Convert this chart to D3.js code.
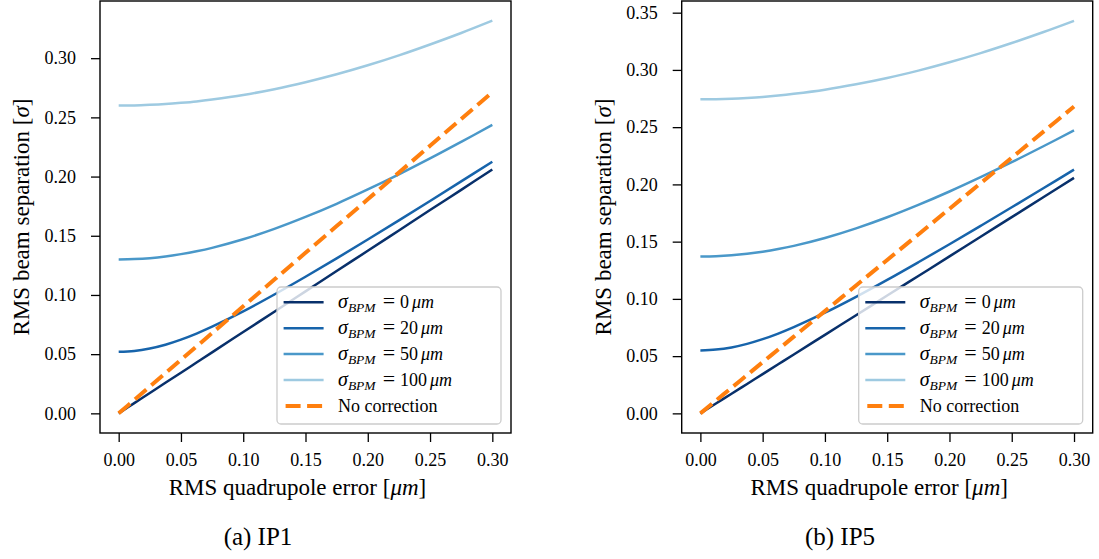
<!DOCTYPE html>
<html><head><meta charset="utf-8">
<script src="https://cdn.jsdelivr.net/npm/d3@7"></script>
<style>
html,body{margin:0;padding:0;background:#fff;}
svg{display:block;}
text{font-family:"Liberation Serif","Times New Roman",serif;fill:#000;}
</style></head><body>
<svg id="chart" width="1099" height="559"></svg>
<script>
// ---------- data ----------
const xValues = [0, 0.0125, 0.025, 0.0375, 0.05, 0.0625, 0.075, 0.1, 0.125, 0.15, 0.175, 0.2, 0.225, 0.25, 0.275, 0.3];

const ip1Bpm0   = [0, 0.0086, 0.0172, 0.0258, 0.0343, 0.0429, 0.0515, 0.0687, 0.0858, 0.1030, 0.1202, 0.1373, 0.1545, 0.1717, 0.1888, 0.2060];
const ip1Bpm20  = [0.0520, 0.0527, 0.0548, 0.0580, 0.0623, 0.0674, 0.0732, 0.0861, 0.1004, 0.1154, 0.1309, 0.1468, 0.1630, 0.1794, 0.1959, 0.2125];
const ip1Bpm50  = [0.1300, 0.1303, 0.1311, 0.1325, 0.1345, 0.1369, 0.1398, 0.1470, 0.1558, 0.1659, 0.1770, 0.1891, 0.2019, 0.2153, 0.2293, 0.2436];
const ip1Bpm100 = [0.2600, 0.2601, 0.2606, 0.2613, 0.2623, 0.2635, 0.2651, 0.2689, 0.2738, 0.2797, 0.2864, 0.2940, 0.3024, 0.3116, 0.3213, 0.3317];
const ip1None   = [0, 0.0113, 0.0226, 0.0339, 0.0452, 0.0565, 0.0678, 0.0904, 0.1130, 0.1356, 0.1582, 0.1808, 0.2034, 0.2260, 0.2486, 0.2712];

const ip5Bpm0   = [0, 0.0086, 0.0171, 0.0257, 0.0343, 0.0429, 0.0514, 0.0686, 0.0857, 0.1029, 0.1200, 0.1371, 0.1543, 0.1714, 0.1886, 0.2057];
const ip5Bpm20  = [0.0550, 0.0557, 0.0576, 0.0607, 0.0648, 0.0697, 0.0753, 0.0879, 0.1018, 0.1166, 0.1320, 0.1477, 0.1638, 0.1800, 0.1964, 0.2129];
const ip5Bpm50  = [0.1370, 0.1373, 0.1381, 0.1394, 0.1412, 0.1435, 0.1463, 0.1532, 0.1616, 0.1713, 0.1821, 0.1938, 0.2063, 0.2194, 0.2331, 0.2471];
const ip5Bpm100 = [0.2743, 0.2744, 0.2748, 0.2755, 0.2764, 0.2776, 0.2791, 0.2827, 0.2874, 0.2929, 0.2994, 0.3067, 0.3147, 0.3235, 0.3329, 0.3429];
const ip5None   = [0, 0.0112, 0.0223, 0.0335, 0.0447, 0.0558, 0.0670, 0.0893, 0.1117, 0.1340, 0.1563, 0.1787, 0.2010, 0.2233, 0.2457, 0.2680];

const bpmLabels = ["0", "20", "50", "100"];
const noCorrectionLabel = "No correction";
const xTicks = [0, 0.05, 0.1, 0.15, 0.2, 0.25, 0.3];
const yTicksIP1 = [0, 0.05, 0.1, 0.15, 0.2, 0.25, 0.3];
const yTicksIP5 = [0, 0.05, 0.1, 0.15, 0.2, 0.25, 0.3, 0.35];
const xLabel = "RMS quadrupole error [";
const yLabel = "RMS beam separation [";
const captions = ["(a) IP1", "(b) IP5"];

// ---------- styles ----------
const blues = ["#08306b", "#1764ab", "#4a98c9", "#9ecae1"];
const orange = "#ff7f0e";
const TICK_FONT = 18;
const LABEL_FONT = 23;
const CAPTION_FONT = 25;

const svg = d3.select("#chart");

function drawPanel(p) {
  const left = p.left, right = p.left + 411, top = 1, bottom = 433;
  const x = d3.scaleLinear().domain([-0.015, 0.315]).range([left, right]);
  const y = d3.scaleLinear().domain(p.yDomain).range([bottom, top]);
  const g = svg.append("g");

  const clipId = "clip" + p.id;
  svg.append("clipPath").attr("id", clipId).append("rect")
    .attr("x", left).attr("y", top).attr("width", right - left).attr("height", bottom - top);

  const lineGen = d3.line()
    .x((d, i) => x(xValues[i]))
    .y(d => y(d))
    .curve(d3.curveCatmullRom.alpha(0.5));

  const plot = g.append("g").attr("clip-path", `url(#${clipId})`);
  p.series.forEach((vals, i) => {
    plot.append("path").attr("d", lineGen(vals))
      .attr("fill", "none").attr("stroke", blues[i]).attr("stroke-width", 2.5);
  });
  plot.append("path").attr("d", lineGen(p.none))
    .attr("fill", "none").attr("stroke", orange).attr("stroke-width", 4)
    .attr("stroke-dasharray", "15,6.5");

  // legend
  const lw = 224, lh = 137;
  const lx = right - 10 - lw, ly = 287;
  const leg = g.append("g");
  leg.append("rect").attr("x", lx).attr("y", ly).attr("width", lw).attr("height", lh)
    .attr("rx", 4).attr("fill", "#fff").attr("fill-opacity", 0.8)
    .attr("stroke", "#cccccc").attr("stroke-width", 1.3);
  const rowY = i => ly + 15.3 + i * 25.9;
  bpmLabels.forEach((lab, i) => {
    const cy = rowY(i);
    leg.append("line").attr("x1", lx + 6.6).attr("x2", lx + 46.6)
      .attr("y1", cy).attr("y2", cy).attr("stroke", blues[i]).attr("stroke-width", 2.5);
    const t = leg.append("text").attr("x", lx + 61).attr("y", cy + 6)
      .attr("font-size", TICK_FONT);
    t.append("tspan").attr("font-style", "italic").attr("font-size", 20).text("σ");
    t.append("tspan").attr("font-style", "italic").attr("font-size", 13.5)
      .attr("dy", 4).text("BPM");
    t.append("tspan").attr("dy", -4).attr("dx", 7).attr("font-size", 22).text("=");
    t.append("tspan").attr("dx", 5).text(lab);
    t.append("tspan").attr("dx", 3).attr("font-style", "italic").text("μm");
  });
  {
    const cy = rowY(4);
    leg.append("line").attr("x1", lx + 6.6).attr("x2", lx + 46.6)
      .attr("y1", cy).attr("y2", cy).attr("stroke", orange).attr("stroke-width", 4)
      .attr("stroke-dasharray", "15,6.5").attr("stroke-dashoffset", -2);
    leg.append("text").attr("x", lx + 61).attr("y", cy + 6)
      .attr("font-size", TICK_FONT).text(noCorrectionLabel);
  }

  // frame
  g.append("rect").attr("x", left).attr("y", top).attr("width", right - left)
    .attr("height", bottom - top).attr("fill", "none").attr("stroke", "#000").attr("stroke-width", 1.4);

  // axes
  const fmt = d3.format(".2f");
  const xa = g.append("g").attr("transform", `translate(0,${bottom})`)
    .call(d3.axisBottom(x).tickValues(xTicks).tickFormat(fmt).tickSize(9).tickPadding(11));
  const ya = g.append("g").attr("transform", `translate(${left},0)`)
    .call(d3.axisLeft(y).tickValues(p.yTicks).tickFormat(fmt).tickSize(9).tickPadding(15));
  [xa, ya].forEach(a => {
    a.select(".domain").remove();
    a.selectAll(".tick line").attr("stroke", "#000").attr("stroke-width", 1.3);
    a.selectAll(".tick text").attr("font-size", TICK_FONT)
      .attr("font-family", "'Liberation Serif','Times New Roman',serif").attr("fill", "#000");
  });

  // axis labels
  const xl = g.append("text").attr("x", (left + right) / 2 - 8).attr("y", 495)
    .attr("text-anchor", "middle").attr("font-size", LABEL_FONT);
  xl.append("tspan").text(xLabel);
  xl.append("tspan").attr("font-style", "italic").text("μm");
  xl.append("tspan").text("]");

  const yl = g.append("text").attr("transform", `translate(${left - 71},${(top + bottom) / 2}) rotate(-90)`)
    .attr("text-anchor", "middle").attr("font-size", LABEL_FONT);
  yl.append("tspan").text(yLabel);
  yl.append("tspan").attr("font-style", "italic").text("σ");
  yl.append("tspan").text("]");

  // caption
  g.append("text").attr("x", p.captionX).attr("y", 545).attr("text-anchor", "middle")
    .attr("font-size", CAPTION_FONT).text(p.caption);
}

drawPanel({
  id: "a", left: 100, yDomain: [-0.0166, 0.3483], yTicks: yTicksIP1,
  series: [ip1Bpm0, ip1Bpm20, ip1Bpm50, ip1Bpm100], none: ip1None,
  caption: captions[0], captionX: 258
});
drawPanel({
  id: "b", left: 681.7, yDomain: [-0.01715, 0.3602], yTicks: yTicksIP5,
  series: [ip5Bpm0, ip5Bpm20, ip5Bpm50, ip5Bpm100], none: ip5None,
  caption: captions[1], captionX: 840
});
</script>
</body></html>
